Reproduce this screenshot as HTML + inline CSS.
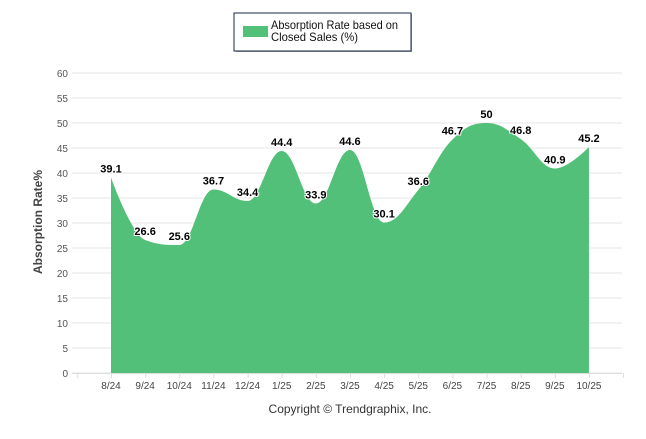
<!DOCTYPE html>
<html><head><meta charset="utf-8"><style>
body{margin:0;background:#fff;width:646px;height:434px;overflow:hidden;font-family:"Liberation Sans",sans-serif}
</style></head><body>
<svg width="646" height="434">
<g id="grid"></g>
<g id="yt"></g>
<path id="area" fill="#53c07a"/>
<g id="xt"></g>
<g id="lb"></g>
<text transform="translate(42,222) rotate(-90)" text-anchor="middle" font-size="12" font-weight="bold" fill="#444">Absorption Rate%</text>
<text x="350" y="413" text-anchor="middle" font-size="12" fill="#333">Copyright © Trendgraphix, Inc.</text>
<g>
<rect x="236" y="14" width="176" height="38" fill="#444" opacity="0.5"/>
<rect x="234" y="13" width="177" height="38" fill="#fff" stroke="#1a2a4a" stroke-width="1"/>
<rect x="243" y="26" width="25" height="11" fill="#53c07a"/>
<text x="271" y="29" font-size="12" fill="#111" textLength="127" lengthAdjust="spacingAndGlyphs">Absorption Rate based on</text>
<text x="271" y="41" font-size="12" fill="#111" textLength="87" lengthAdjust="spacingAndGlyphs">Closed Sales (%)</text>
</g>
</svg>
<script>
const categories=["8/24","9/24","10/24","11/24","12/24","1/25","2/25","3/25","4/25","5/25","6/25","7/25","8/25","9/25","10/25"];
const values=[39.1,26.6,25.6,36.7,34.4,44.4,33.9,44.6,30.1,36.6,46.7,50,46.8,40.9,45.2];
const yTicks=[0,5,10,15,20,25,30,35,40,45,50,55,60];
const NS="http://www.w3.org/2000/svg";
const x0=111,dx=34.14,yb=373,ppu=5;
const X=i=>x0+i*dx, Y=v=>yb-v*ppu;
function el(t,a,p,txt){const e=document.createElementNS(NS,t);for(const k in a)e.setAttribute(k,a[k]);if(txt!==undefined)e.textContent=txt;document.getElementById(p).appendChild(e);return e;}
yTicks.forEach(v=>{
 const g=el('line',{x1:72,x2:622,y1:Y(v),y2:Y(v),stroke:'#e6e6e6'},'grid');
 
 
 const t=el('text',{x:68,y:Y(v)+4,'text-anchor':'end','font-size':10,fill:'#555'},'yt',v);
 
 
});
el('line',{x1:72,x2:622,y1:yb+0.5,y2:yb+0.5,stroke:'#ddd'},'xt');
for(let i=-1;i<=categories.length;i++){el('line',{x1:X(i)+0.5,x2:X(i)+0.5,y1:yb,y2:yb+5,stroke:'#ddd'},'xt');}
categories.forEach((c,i)=>{
 const t=el('text',{x:X(i),y:yb+16,'text-anchor':'middle','font-size':10,fill:'#444'},'xt',c);
 
 
});
const pts=values.map((v,i)=>[X(i),Y(v)]);
let d=`M${pts[0][0]},${yb} L${pts[0][0]},${pts[0][1]}`;
const sm=1.5;
function cps(i){const p=pts[i],a=pts[i-1],b=pts[i+1];
 let lx=(sm*p[0]+a[0])/(sm+1),ly=(sm*p[1]+a[1])/(sm+1),rx=(sm*p[0]+b[0])/(sm+1),ry=(sm*p[1]+b[1])/(sm+1);
 if(rx!==lx){const s=(ry-ly)/(rx-lx);ly+=(p[1]-(ly+(p[0]-lx)*s));ry=ly+(rx-lx)*s;}
 if(ly>Math.max(a[1],p[1])||ly<Math.min(a[1],p[1])){ly=Math.max(Math.min(ly,Math.max(a[1],p[1])),Math.min(a[1],p[1]));ry=2*p[1]-ly;}
 if(ry>Math.max(b[1],p[1])||ry<Math.min(b[1],p[1])){ry=Math.max(Math.min(ry,Math.max(b[1],p[1])),Math.min(b[1],p[1]));ly=2*p[1]-ry;}
 return [[lx,ly],[rx,ry]];}
const C=pts.map((p,i)=>(i>0&&i<pts.length-1)?cps(i):[p,p]);
for(let i=1;i<pts.length;i++){const c1=C[i-1][1],c2=C[i][0];d+=` C${c1[0]},${c1[1]} ${c2[0]},${c2[1]} ${pts[i][0]},${pts[i][1]}`;}
d+=` L${pts[pts.length-1][0]},${yb} Z`;
document.getElementById('area').setAttribute('d',d);
values.forEach((v,i)=>{
 const t=el('text',{x:X(i),y:Y(v)-5,'text-anchor':'middle','font-size':11,'font-weight':'bold',fill:'#000',stroke:'#fff','stroke-width':2,'paint-order':'stroke'},'lb',v);
 
 
});
</script>
</body></html>
